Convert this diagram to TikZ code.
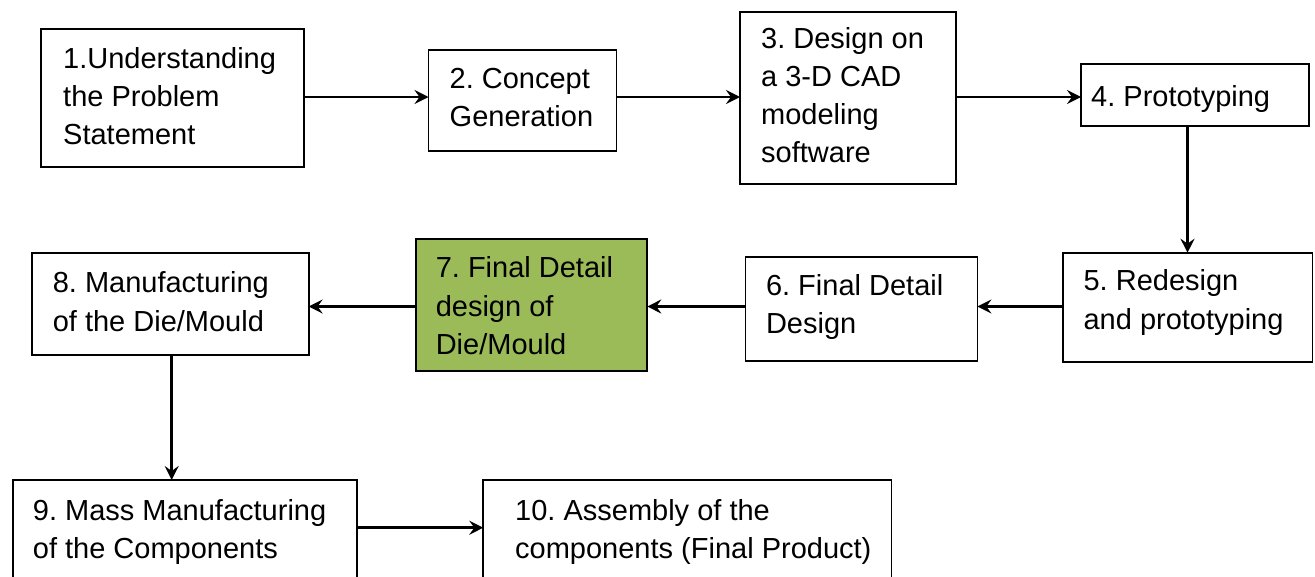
\documentclass[tikz,border=0pt]{standalone}
\usepackage{fontspec}
\setmainfont{Liberation Sans}
\usetikzlibrary{arrows.meta}
\definecolor{boxgreen}{HTML}{9BBB59}
\frenchspacing
\begin{document}
\begin{tikzpicture}[x=1pt,y=-1pt,
  box/.style={draw=black, line width=1.8pt, inner sep=0pt, outer sep=0pt, anchor=north west},
  txt/.style={anchor=base west, inner sep=0pt, font=\fontsize{29}{38.3}\selectfont\frenchspacing},
  arr/.style={line width=2.5pt, -{Stealth[length=14pt,width=14pt,inset=5pt]}}]
\useasboundingbox (0,0) rectangle (1315,576);
\clip (0,0) rectangle (1315,576);
% boxes
\node[box, minimum width=263pt, minimum height=137.4pt] (b1) at (41,29.3) {};
\node[box, minimum width=188pt, minimum height=101pt] (b2) at (428.5,50) {};
\node[box, minimum width=216pt, minimum height=172.3pt] (b3) at (740,11.7) {};
\node[box, minimum width=227.6pt, minimum height=62pt] (b4) at (1081,64) {};
\node[box, minimum width=249.8pt, minimum height=109.3pt] (b5) at (1062.6,252.7) {};
\node[box, minimum width=232pt, minimum height=104pt] (b6) at (745.4,256.7) {};
\node[box, fill=boxgreen, minimum width=231.5pt, minimum height=131.4pt] (b7) at (415.8,239.3) {};
\node[box, minimum width=277pt, minimum height=101.7pt] (b8) at (31.6,253.3) {};
\node[box, minimum width=344.4pt, minimum height=140pt] (b9) at (12.6,480) {};
\node[box, minimum width=408.2pt, minimum height=140pt] (b10) at (483.3,480) {};
% texts
\node[txt] (t1) at (63,68) {\parbox[t]{240pt}{1.Understanding\\the Problem\\Statement}};
\node[txt] (t2) at (449.5,88) {\parbox[t]{170pt}{2. Concept\\Generation}};
\node[txt] (t3) at (761,48) {\parbox[t]{190pt}{3. Design on\\a 3-D CAD\\modeling\\software}};
\node[txt] (t4) at (1091,106) {4. Prototyping};
\node[txt] (t5) at (1083.4,290.7) {\parbox[t]{225pt}{5. Redesign\\and prototyping}};
\node[txt] (t6) at (765.8,295) {\parbox[t]{210pt}{6. Final Detail\\Design}};
\node[txt] (t7) at (435.6,277.7) {\parbox[t]{210pt}{7. Final Detail\\design of\\Die/Mould}};
\node[txt] (t8) at (52.6,292.7) {\parbox[t]{250pt}{8. Manufacturing\\of the Die/Mould}};
\node[txt] (t9) at (32.7,520) {\parbox[t]{320pt}{9. Mass Manufacturing\\of the Components}};
\node[txt] (t10) at (515,520) {\parbox[t]{370pt}{10. Assembly of the\\components (Final Product)}};
% levels
\coordinate (r1) at (0,97);
\coordinate (r2) at (0,306.5);
\coordinate (r3) at (0,527.7);
\coordinate (c8) at (171.7,0);
% connectors
\draw[arr] (b1.east |- r1) -- (b2.west |- r1);
\draw[arr] (b2.east |- r1) -- (b3.west |- r1);
\draw[arr] (b3.east |- r1) -- (b4.west |- r1);
\draw[arr] (b4.south -| b5.north) -- (b5.north);
\draw[arr] (b5.west |- r2) -- (b6.east |- r2);
\draw[arr] (b6.west |- r2) -- (b7.east |- r2);
\draw[arr] (b7.west |- r2) -- (b8.east |- r2);
\draw[arr] (b8.south -| c8) -- (b9.north -| c8);
\draw[arr] (b9.east |- r3) -- (b10.west |- r3);
\end{tikzpicture}
\end{document}
